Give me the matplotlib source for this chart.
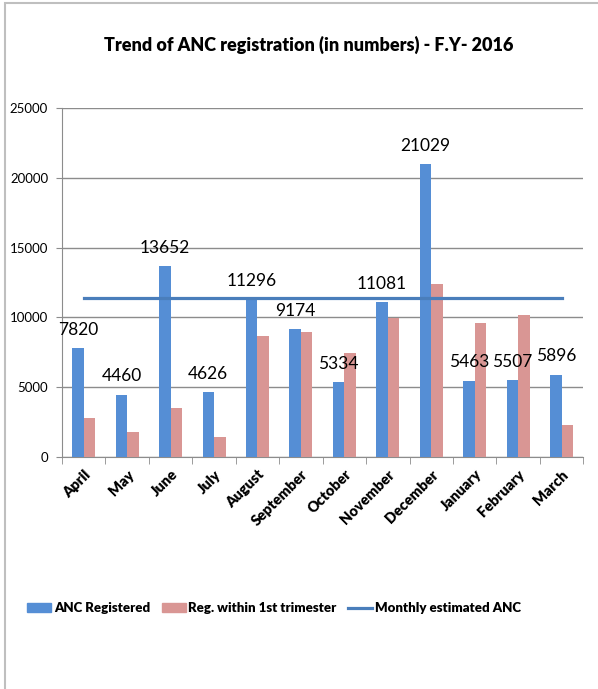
import matplotlib.pyplot as plt
from matplotlib.lines import Line2D
from matplotlib.patches import Patch, Rectangle
import numpy as np

months = ["April", "May", "June", "July", "August", "September", "October",
          "November", "December", "January", "February", "March"]
anc_registered = [7820, 4460, 13652, 4626, 11296, 9174, 5334, 11081, 21029, 5463, 5507, 5896]
first_trimester = [2750, 1800, 3470, 1390, 8680, 8920, 7420, 9930, 12370, 9570, 10170, 2270]
monthly_estimated = [11360] * 12

BLUE = "#558ED5"
PINK = "#D99694"
LINE = "#4A7EBB"
GRID = "#8C8C8C"


def main():
    plt.rcParams['font.family'] = ['Lato', 'DejaVu Sans']
    fig = plt.figure(figsize=(5.98, 6.89), dpi=100)
    fig.add_artist(Rectangle((5 / 598, -0.01), 1.1, 1 - 3 / 689 + 0.01,
                             transform=fig.transFigure, fill=False,
                             edgecolor="#BFBFBF", linewidth=1.5))

    ax = fig.add_axes([0.1037, 0.3372, 0.8717, 0.5056])
    x = np.arange(len(months))
    w = 0.265
    ax.bar(x - w / 2, anc_registered, w, color=BLUE, zorder=3)
    ax.bar(x + w / 2, first_trimester, w, color=PINK, zorder=3)
    ax.plot(x, monthly_estimated, color=LINE, linewidth=2.3, zorder=4)

    for xi, v in zip(x, anc_registered):
        ax.annotate(str(v), (xi - w / 2, v), xytext=(0, 13), textcoords="offset points",
                    ha="center", va="center", fontsize=12.5, zorder=5)

    ax.set_xlim(-0.5, 11.5)
    ax.set_ylim(0, 25000)
    ax.set_yticks(range(0, 25001, 5000))
    ax.tick_params(axis="y", labelsize=9.5, length=4, color=GRID, pad=6)
    ax.set_xticks(x)
    ax.set_xticklabels(months, rotation=45, ha="right", rotation_mode="anchor",
                       fontsize=10.5, fontweight="heavy")
    ax.tick_params(axis="x", length=0, pad=8)
    ax.set_xticks(np.arange(-0.5, 12, 1), minor=True)
    ax.tick_params(axis="x", which="minor", length=5, color=GRID)
    ax.grid(axis="y", color=GRID, linewidth=1, zorder=0)
    for s in ["top", "right"]:
        ax.spines[s].set_visible(False)
    for s in ["left", "bottom"]:
        ax.spines[s].set_color(GRID)

    fig.text(309 / 598, 1 - 45 / 689, "Trend of ANC registration (in numbers) - F.Y- 2016",
             ha="center", va="center", fontsize=13, fontweight="heavy")

    handles = [Patch(color=BLUE, label="ANC Registered"),
               Patch(color=PINK, label="Reg. within 1st trimester"),
               Line2D([], [], color=LINE, linewidth=2.3, label="Monthly estimated ANC")]
    fig.legend(handles=handles, loc="center", bbox_to_anchor=(274 / 598, 1 - 608 / 689),
               ncol=3, frameon=False, handlelength=1.8, handleheight=0.6,
               handletextpad=0.2, columnspacing=0.9,
               prop={"weight": "heavy", "size": 9.5})

    fig.savefig("out.png", dpi=100)


if __name__ == "__main__":
    main()
